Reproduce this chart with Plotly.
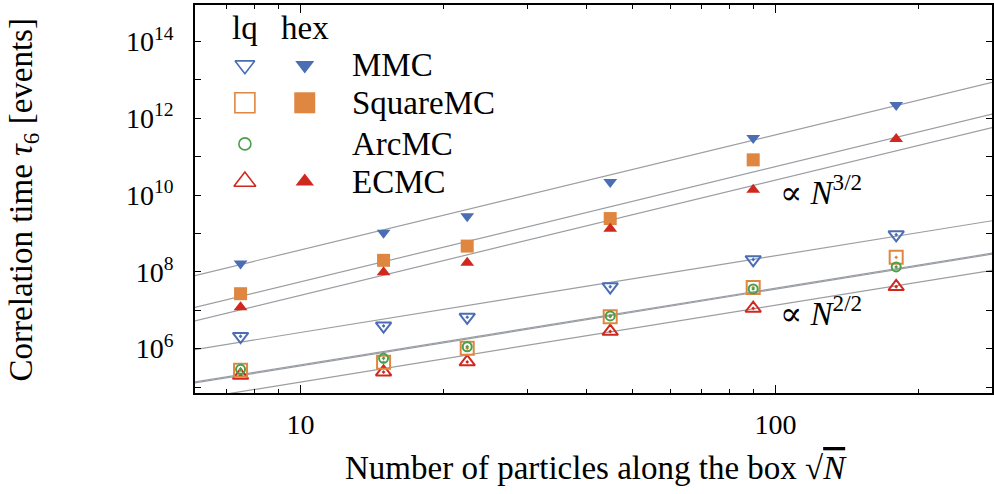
import numpy as np
import plotly.graph_objects as go

# ---------------- data ----------------
sqrtN = [7.483, 14.967, 22.45, 44.9, 89.8, 179.6]

mmc_hex = [1.66e8, 1.05e9, 2.8e9, 2.2e10, 3.1e11, 2.24e12]
square_hex = [2.7e7, 2.0e8, 4.7e8, 2.45e9, 8.3e10, None]
ecmc_hex = [1.2e7, 9.8e7, 1.74e8, 1.32e9, 1.38e10, 2.9e11]

mmc_lq = [2.1e6, 3.9e6, 6.6e6, 4.1e7, 2.1e8, 9.3e8]
square_lq = [2.75e5, 4.4e5, 1.02e6, 6.8e6, 3.9e7, 2.4e8]
arc_lq = [2.9e5, 5.6e5, 1.12e6, 7.1e6, 3.6e7, 1.35e8]
ecmc_lq = [2.0e5, 2.45e5, 4.5e5, 2.8e6, 1.12e7, 4.1e7]

# power-law guides: tau = 10**log_prefactor * sqrtN**exponent
fit_names = ["MMC hex", "SquareMC hex", "ECMC hex", "MMC lq", "SquareMC lq", "ArcMC lq", "ECMC lq"]
fit_log_prefactor = [5.57, 4.74, 4.39, 4.42, 3.55, 3.575, 3.13]
fit_exponent = [3, 3, 3, 2, 2, 2, 2]

legend_labels = ["MMC", "SquareMC", "ArcMC", "ECMC"]
x_tick_labels = {10: "10", 100: "100"}
y_major_exponents = [6, 8, 10, 12, 14]
y_minor_exponents = [5, 7, 9, 11, 13]

# ---------------- style ----------------
BLUE = "#4a6db3"
ORANGE = "#df8640"
GREEN = "#49a04a"
RED = "#d0281f"
FONT = "Liberation Serif"
FS = 33      # text size
TFS = 28     # tick label size

XR = [np.log10(6.0), 2.456]
YR = [4.844, 14.954]

def paper_to_data(fx, fy):
    return (10 ** (XR[0] + fx * (XR[1] - XR[0])), 10 ** (YR[0] + fy * (YR[1] - YR[0])))

fig = go.Figure()

x_line = [5.0, 320.0]
for lp, ex in zip(fit_log_prefactor, fit_exponent):
    fig.add_trace(go.Scatter(
        x=x_line, y=[10 ** lp * xv ** ex for xv in x_line], mode="lines",
        line=dict(color="#9a9ea3", width=1.2), hoverinfo="skip", showlegend=False))

def pts(y, sym, color, size, lw=2):
    fig.add_trace(go.Scatter(
        x=sqrtN, y=y, mode="markers", showlegend=False,
        marker=dict(symbol=sym, color=color, size=size, line=dict(color=color, width=lw))))

pts(mmc_hex, "triangle-down", BLUE, 12, 0)
pts(square_hex, "square", ORANGE, 13, 0)
pts(ecmc_hex, "triangle-up", RED, 12, 0)
pts(mmc_lq, "triangle-down-open-dot", BLUE, 13.5)
pts(ecmc_lq, "triangle-up-open-dot", RED, 13.5)
pts(square_lq, "square-open-dot", ORANGE, 13)
pts(arc_lq, "circle-open-dot", GREEN, 9)

# ---------------- legend keys ----------------
leg_rows = [0.845, 0.748, 0.642, 0.545]
leg_x_lq, leg_x_hex, leg_x_text = 0.0626, 0.1377, 0.195
leg_lq = [("triangle-down-open", BLUE, 17), ("square-open", ORANGE, 20),
          ("circle-open", GREEN, 12), ("triangle-up-open", RED, 19)]
leg_hex = [("triangle-down", BLUE, 16.5), ("square", ORANGE, 21),
           (None, None, None), ("triangle-up", RED, 16)]
for r, (s, c, sz) in zip(leg_rows, leg_lq):
    px, py = paper_to_data(leg_x_lq, r)
    fig.add_trace(go.Scatter(x=[px], y=[py], mode="markers", cliponaxis=False,
                             showlegend=False, hoverinfo="skip",
                             marker=dict(symbol=s, color=c, size=sz, line=dict(color=c, width=1.6))))
for r, (s, c, sz) in zip(leg_rows, leg_hex):
    if s is None:
        continue
    px, py = paper_to_data(leg_x_hex, r)
    fig.add_trace(go.Scatter(x=[px], y=[py], mode="markers", cliponaxis=False,
                             showlegend=False, hoverinfo="skip",
                             marker=dict(symbol=s, color=c, size=sz, line=dict(width=0))))

ann = []
ann.append(dict(x=leg_x_lq, y=0.941, text="lq"))
ann.append(dict(x=leg_x_hex, y=0.941, text="hex"))
for r, t in zip(leg_rows, legend_labels):
    ann.append(dict(x=leg_x_text, y=r, text=t, xanchor="left"))
for a in ann:
    a.update(xref="paper", yref="paper", showarrow=False, font=dict(family=FONT, size=FS, color="black"))
    a.setdefault("xanchor", "center")
    a["yanchor"] = "middle"
fig.update_layout(annotations=ann)

PROP = "<span style='font-family:DejaVu Serif'>∝</span>"
fig.add_annotation(x=0.732, y=0.523, xref="paper", yref="paper", showarrow=False,
                   text=PROP + " <i>N</i><sup>3/2</sup>", xanchor="left", yanchor="middle",
                   font=dict(family=FONT, size=FS, color="black"))
fig.add_annotation(x=0.732, y=0.209, xref="paper", yref="paper", showarrow=False,
                   text=PROP + " <i>N</i><sup>2/2</sup>", xanchor="left", yanchor="middle",
                   font=dict(family=FONT, size=FS, color="black"))
fig.add_annotation(x=0.503, y=-0.193, xref="paper", yref="paper", showarrow=False,
                   text="Number of particles along the box √<span style='text-decoration:overline'><i>N</i></span>",
                   xanchor="center", yanchor="middle", font=dict(family=FONT, size=FS, color="black"))
fig.add_annotation(x=-0.2155, y=0.497, xref="paper", yref="paper", showarrow=False, textangle=-90,
                   text="Correlation time <i>τ</i><sub>6</sub> [events]",
                   xanchor="center", yanchor="middle", font=dict(family=FONT, size=FS, color="black"))

minor_x = [6, 7, 8, 9, 20, 30, 40, 50, 60, 70, 80, 90, 200, 300]
fig.update_layout(
    width=994, height=494,
    margin=dict(l=195, r=0, t=5, b=101),
    plot_bgcolor="white", paper_bgcolor="white",
    font=dict(family=FONT, size=TFS, color="black"),
    xaxis=dict(type="log", range=XR, showgrid=False, zeroline=False,
               showline=True, linecolor="black", linewidth=1.5, mirror="ticks",
               ticks="inside", ticklen=8, tickwidth=1, tickcolor="black",
               tickvals=list(x_tick_labels.keys()), ticktext=list(x_tick_labels.values()),
               ticklabelstandoff=6, tickfont=dict(size=TFS),
               minor=dict(tickvals=minor_x, ticks="inside", ticklen=4, tickcolor="black", showgrid=False)),
    yaxis=dict(type="log", range=YR, showgrid=False, zeroline=False,
               showline=True, linecolor="black", linewidth=1.5, mirror="ticks",
               ticks="inside", ticklen=6, tickwidth=1, tickcolor="black",
               tickvals=[10.0 ** e for e in y_major_exponents],
               ticktext=[f"10<sup>{e}</sup>" for e in y_major_exponents],
               ticklabelstandoff=14, tickfont=dict(size=TFS),
               minor=dict(tickvals=[10.0 ** e for e in y_minor_exponents], ticks="inside",
                          ticklen=6, tickcolor="black", showgrid=False)),
)

fig.write_html("out.html")
